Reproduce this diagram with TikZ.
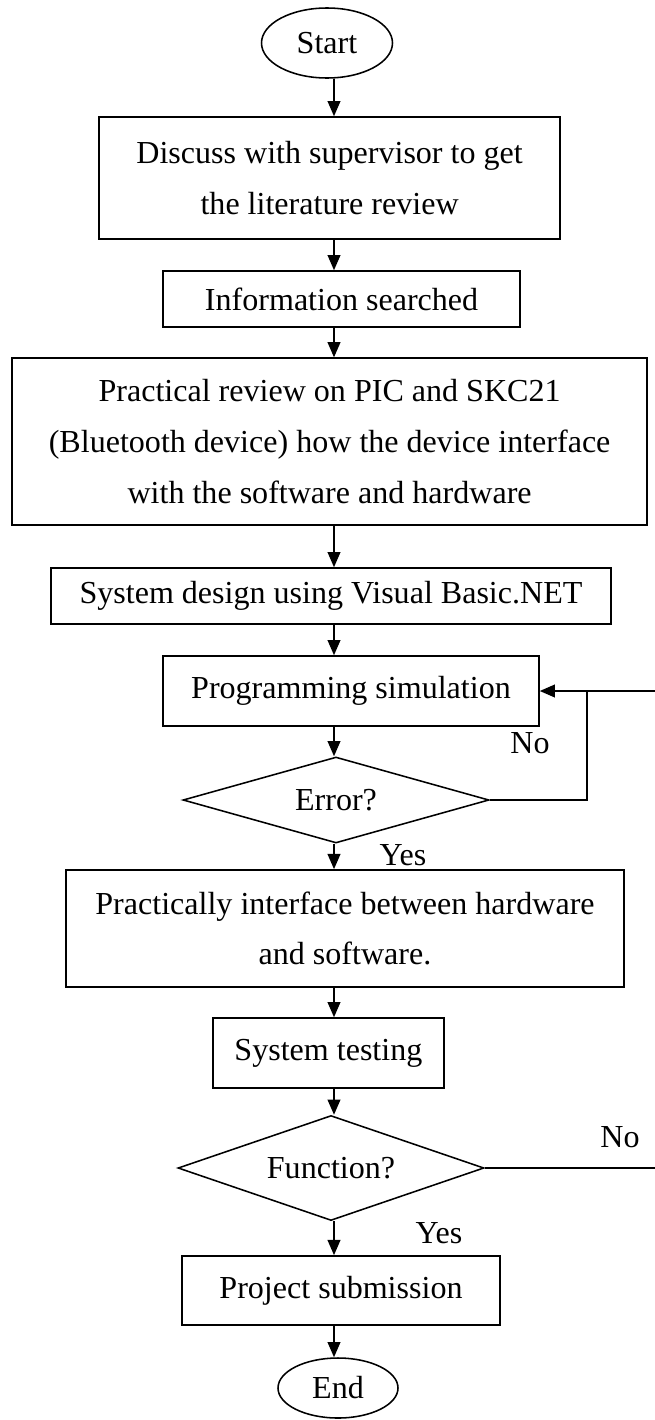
\documentclass[tikz,border=0pt]{standalone}
\usepackage{fontspec}
\setmainfont{Liberation Serif}
\usetikzlibrary{arrows.meta,shapes.geometric}

\begin{document}
\begin{tikzpicture}[>={Triangle[length=.38cm,width=.32cm]},line width=1.1pt,
  font=\fontsize{22.8}{36}\selectfont,
  procbox/.style={draw,rectangle,inner sep=0pt,align=center},
  decide/.style={draw,diamond,shape aspect=3,inner sep=0pt,minimum width=7.65cm},
  term/.style={draw,ellipse,inner sep=0pt}]
\useasboundingbox (0,0) rectangle (16.375,-35.5);
\coordinate (spine) at (8.35,0);
\coordinate (turn) at (14.675,0);
\coordinate (rim) at (16.375,0);
% flow nodes
\node[term,minimum width=3.275cm,minimum height=1.75cm] (start) at (8.175,-1.075) {Start};
\node[procbox,minimum width=11.525cm,minimum height=3.05cm] (discuss) at (8.24,-4.45)
  {Discuss with supervisor to get\\the literature review};
\node[procbox,minimum width=8.925cm,minimum height=1.4cm] (info) at (8.54,-7.475) {Information searched};
\node[procbox,minimum width=15.875cm,minimum height=4.175cm] (review) at (8.24,-11.04)
  {Practical review on PIC and SKC21\\(Bluetooth device) how the device interface\\with the software and hardware};
\node[procbox,minimum width=14cm,minimum height=1.4cm] (design) at (8.275,-14.9) {System design using Visual Basic.NET};
\node[procbox,minimum width=9.4cm,minimum height=1.75cm] (prog) at (8.775,-17.275) {Programming simulation};
\node[decide,minimum height=2.15cm] (error) at (8.4,-20) {Error?};
\node[procbox,minimum width=13.95cm,minimum height=2.925cm] (iface) at (8.625,-23.21)
  {Practically interface between hardware\\and software.};
\node[procbox,minimum width=5.775cm,minimum height=1.75cm] (testing) at (8.21,-26.325) {System testing};
\node[decide,minimum height=2.625cm] (func) at (8.275,-29.2) {Function?};
\node[procbox,minimum width=7.95cm,minimum height=1.725cm] (submit) at (8.525,-32.26) {Project submission};
\node[term,minimum width=3cm,minimum height=1.5cm] (finish) at (8.45,-34.7) {End};
% labels
\node (noA) at (13.25,-18.575) {No};
\node (yesA) at (10.075,-21.375) {Yes};
\node (noB) at (15.5,-28.425) {No};
\node (yesB) at (10.975,-30.825) {Yes};
% connectors
\foreach \a/\b in {start/discuss,discuss/info,info/review,review/design,design/prog,
  prog/error,error/iface,iface/testing,testing/func,func/submit,submit/finish}
  \draw[->] (\a.south -| spine) -- (\b.north -| spine);
\draw (error.east) -| (turn |- prog.east);
\draw[->] (prog.east -| rim) -- (prog.east);
\draw (func.east) -- (func.east -| rim);
\end{tikzpicture}
\end{document}
